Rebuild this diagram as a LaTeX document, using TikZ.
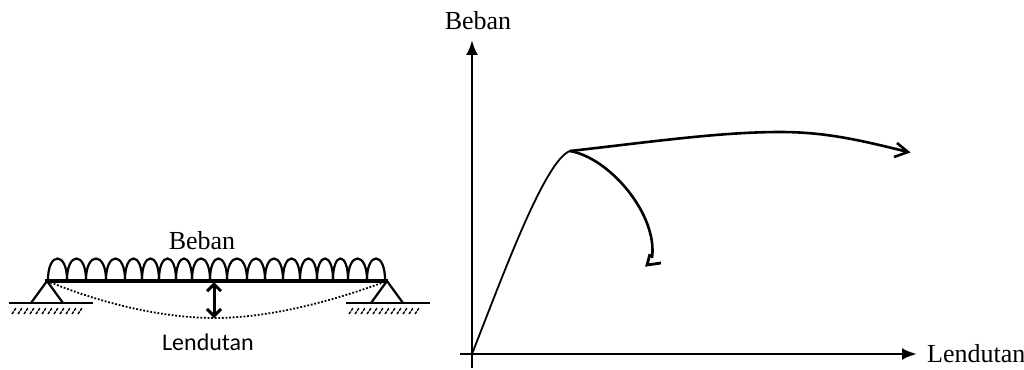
\documentclass[tikz,border=0pt]{standalone}
\usepackage{fontspec}
\setmainfont{Liberation Serif}
\newfontfamily\lblfont{Carlito}
\usetikzlibrary{arrows,arrows.meta}
\tikzset{
  beban/.style={font=\fontsize{26}{28}\selectfont,inner sep=0pt},
  lendlbl/.style={font=\lblfont\fontsize{24}{26}\selectfont,inner sep=0pt},
  axisline/.style={line width=2.8pt},
  hump/.style={line width=2.2pt},
  ground/.style={line width=2.2pt},
  hatchline/.style={line width=1.4pt},
  curveline/.style={line width=2.6pt}
}
\begin{document}
\begin{tikzpicture}[x=1pt,y=-1pt]
  \useasboundingbox (0,0) rectangle (1024,369);
  %
  % macro: one load hump, from x to x
  \newcommand{\humpval}[2]{
    \draw[hump] (#1,281) .. controls (#1-.5,251) and (#2+.5,251) .. (#2,281);
  }
  % macro: support at apex x, ground from x to x, hatch start
  \newcommand{\supportval}[4]{
    \coordinate (apex#1) at (#1,281);
    \coordinate (foota#1) at (#1-16,303);
    \coordinate (footb#1) at (#1+16,303);
    \coordinate (gnda#1) at (#2,303);
    \coordinate (gndb#1) at (#3,303);
    \draw[ground] (foota#1) -- (apex#1) -- (footb#1);
    \draw[ground] (gnda#1) -- (gndb#1);
    \foreach \i in {0,...,11}
      \draw[hatchline,dash pattern=on 3pt off 1pt] (#4+6*\i,314) -- (#4+4+6*\i,308);
  }
  %
  \humpval{48}{67}
  \humpval{67}{86}
  \humpval{86}{106}
  \humpval{106}{125}
  \humpval{125}{142}
  \humpval{142}{159}
  \humpval{159}{176}
  \humpval{176}{192}
  \humpval{192}{210}
  \humpval{210}{227}
  \humpval{227}{247}
  \humpval{247}{265}
  \humpval{265}{283}
  \humpval{283}{300}
  \humpval{300}{317}
  \humpval{317}{333}
  \humpval{333}{348}
  \humpval{348}{367}
  \humpval{367}{385}
  %
  \supportval{47}{9}{93}{12}
  \supportval{387}{346}{430}{349}
  %
  % beam and deflection
  \coordinate (beamL) at (45,281);
  \coordinate (beamR) at (388,281);
  \coordinate (midT) at (214,282);
  \coordinate (midB) at (214,318);
  \draw[line width=3.8pt] (beamL) -- (beamR);
  \draw[line width=1.8pt,dash pattern=on 1.8pt off 1.8pt] (apex47) .. controls (110,307) and (170,318) .. (midB)
    .. controls (265,318) and (325,304) .. (apex387);
  \draw[{Straight Barb[length=7pt,width=14pt]}-{Straight Barb[length=7pt,width=14pt]},line width=3pt] (midT) -- (midB);
  \node[beban] (bebanA) at (202,241) {Beban};
  \node[lendlbl] (lendA) at (208,342) {Lendutan};
  %
  % graph
  \coordinate (origin) at (472,354);
  \coordinate (yBot) at (472,368);
  \coordinate (yTop) at (472,40);
  \coordinate (xLeft) at (460,354);
  \coordinate (xRight) at (917,354);
  \coordinate (peak) at (570,151);
  \coordinate (endA) at (908,152);
  \coordinate (endB) at (652,258);
  \draw[axisline,-{Latex[length=15pt,width=12pt]}] (yBot) -- (yTop);
  \draw[axisline,-{Latex[length=15pt,width=12pt]}] (xLeft) -- (xRight);
  \node[beban] (bebanB) at (478,21) {Beban};
  \node[beban,anchor=west] (lendB) at (927,354) {Lendutan};
  %
  \draw[line width=1.8pt] (origin) .. controls (503,275) and (545,160) .. (peak);
  \draw[curveline] (peak) .. controls (650,142) and (720,132) .. (780,132)
    .. controls (825,132) and (860,140) .. (endA);
  \draw[curveline] (897,143) -- (endA) -- (894,157);
  \draw[curveline] (peak) .. controls (610,158) and (658,215) .. (endB);
  \draw[line width=2.8pt] (650,254) -- (647,265) -- (661,263);
\end{tikzpicture}
\end{document}
